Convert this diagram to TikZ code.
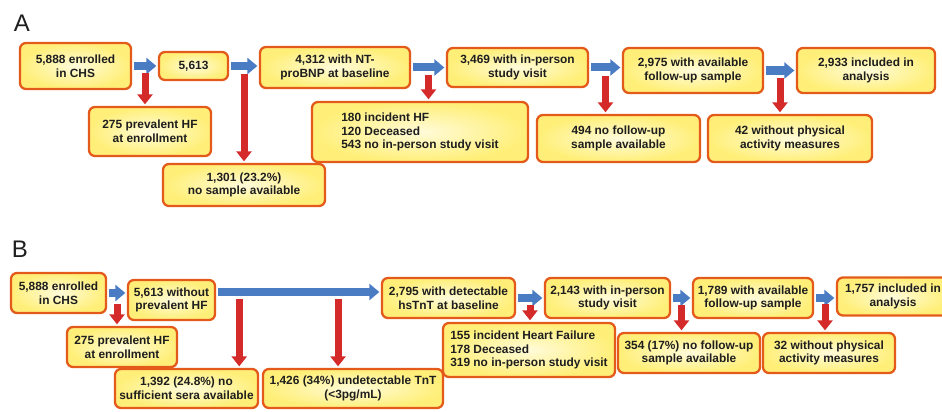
\documentclass[tikz,border=0pt]{standalone}
\usepackage{fontspec}
\setmainfont{Liberation Sans}
\usetikzlibrary{arrows.meta,calc}
\definecolor{ink}{HTML}{1E1E1E}
\definecolor{rim}{HTML}{E35A1A}
\definecolor{fillin}{HTML}{FFFBDA}
\definecolor{fillout}{HTML}{FFEF78}
\definecolor{flowc}{HTML}{4A7CC4}
\definecolor{dropc}{HTML}{D42A2A}

\begin{document}
\begin{tikzpicture}[
  x=1pt,y=-1pt,
  font=\fontsize{11.9}{13.6}\selectfont\bfseries,
  every node/.append style={text=ink},
  box/.style={draw=rim, line width=2.3pt, rounded corners=6pt, shade, inner color=fillin, outer color=fillout, align=center, inner sep=2pt},
  flow/.style={draw=flowc, line width=8pt, shorten <=2pt, shorten >=1.5pt, -{Triangle[width=16pt,length=10pt]}},
  drop/.style={draw=dropc, line width=7pt, shorten >=1.5pt, -{Triangle[width=15pt,length=10pt]}},
  panel/.style={font=\fontsize{24}{24}\selectfont, inner sep=0pt},
]
\useasboundingbox (0,0) rectangle (942,412);
% panel A
\node[panel] (pa) at (22,23) {A};
\node[box, minimum width=111pt, minimum height=46pt] (a1) at (75.5,66) {5,888 enrolled\\in CHS};
\node[box, minimum width=69pt, minimum height=28pt] (a2) at (193.5,66) {5,613};
\node[box, minimum width=150pt, minimum height=41pt] (a3) at (335,67.5) {4,312 with NT-\\proBNP at baseline};
\node[box, minimum width=141pt, minimum height=39pt] (a4) at (517.5,67.5) {3,469 with in-person\\study visit};
\node[box, minimum width=140pt, minimum height=45pt] (a5) at (693,70.5) {2,975 with available\\follow-up sample};
\node[box, minimum width=138pt, minimum height=45pt] (a6) at (866,70.5) {2,933 included in\\analysis};
\node[box, minimum width=122pt, minimum height=49pt] (a7) at (150,131.5) {275 prevalent HF\\at enrollment};
\node[box, minimum width=162pt, minimum height=42pt] (a8) at (244,185) {1,301 (23.2\%)\\no sample available};
\node[box, minimum width=216pt, minimum height=60pt, align=left] (a9) at (420,132)
  {180 incident HF\\120 Deceased\\543 no in-person study visit};
\node[box, minimum width=163pt, minimum height=47pt] (a10) at (618.5,138.5) {494 no follow-up\\sample available};
\node[box, minimum width=164pt, minimum height=47pt] (a11) at (790,138.5) {42 without physical\\activity measures};
% panel B
\node[panel] (pb) at (20,249) {B};
\node[box, minimum width=95pt, minimum height=40pt] (b1) at (58.5,293) {5,888 enrolled\\in CHS};
\node[box, minimum width=87pt, minimum height=40pt] (b2) at (171.5,300) {5,613 without\\prevalent HF};
\node[box, minimum width=133pt, minimum height=40pt] (b3) at (448.5,298) {2,795 with detectable\\hsTnT at baseline};
\node[box, minimum width=125pt, minimum height=40pt] (b4) at (607.5,298) {2,143 with in-person\\study visit};
\node[box, minimum width=120pt, minimum height=40pt] (b5) at (753,298) {1,789 with available\\follow-up sample};
\node[box, minimum width=112pt, minimum height=38pt] (b6) at (893,296.5) {1,757 included in\\analysis};
\node[box, minimum width=110pt, minimum height=40pt] (b7) at (122,347) {275 prevalent HF\\at enrollment};
\node[box, minimum width=143pt, minimum height=39pt] (b8) at (186.5,388.5) {1,392 (24.8\%) no\\sufficient sera available};
\node[box, minimum width=180pt, minimum height=39pt] (b9) at (353,388.5) {1,426 (34\%) undetectable TnT\\(<3pg/mL)};
\node[box, minimum width=172pt, minimum height=54pt, align=left] (b10) at (529,350)
  {155 incident Heart Failure\\178 Deceased\\319 no in-person study visit};
\node[box, minimum width=142pt, minimum height=40pt] (b11) at (689,353) {354 (17\%) no follow-up\\sample available};
\node[box, minimum width=132pt, minimum height=40pt] (b12) at (829,353) {32 without physical\\activity measures};
% flows
\foreach \s/\t in {a1/a2, a2/a3, a3/a4, a4/a5, a5/a6, b1/b2, b3/b4, b4/b5, b5/b6}
  \draw[flow] (\s.east) -- (\s.east -| \t.west);
\coordinate (lb) at ([yshift=8pt]b2.east);
\coordinate (le) at (lb -| b3.west);
\draw[flow] (lb) -- (le);
% exclusions
\foreach \s/\t/\o in {a1/a2/a7, a2/a3/a8, a3/a4/a9, a4/a5/a10, a5/a6/a11, b1/b2/b7, b3/b4/b10, b4/b5/b11, b5/b6/b12} {
  \coordinate (k) at ($(\s.east)!.5!(\t.west)+(0,7)$);
  \draw[drop] (k) -- (k |- \o.north);
}
\foreach \f/\o in {.14/b8, .74/b9} {
  \coordinate (k) at ($(lb)!\f!(le)+(0,7)$);
  \draw[drop] (k) -- (k |- \o.north);
}
\end{tikzpicture}
\end{document}
